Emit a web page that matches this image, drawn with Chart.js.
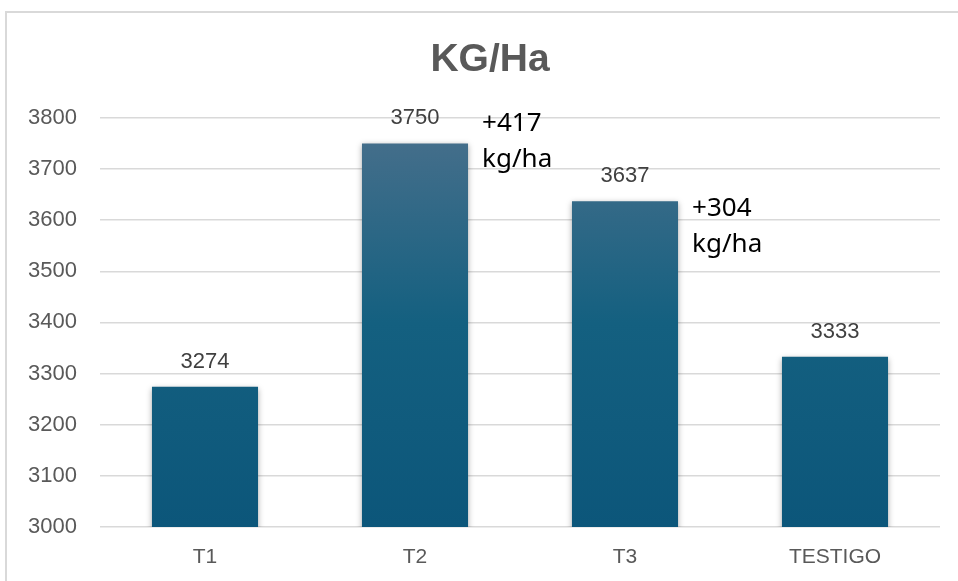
<!DOCTYPE html>
<html>
<head>
<meta charset="utf-8">
<script src="https://cdn.jsdelivr.net/npm/chart.js@4.4.1/dist/chart.umd.min.js"></script>
<style>
  html, body { margin: 0; padding: 0; background: #fff; overflow: hidden; }
  #frame {
    position: absolute; left: 5px; top: 11px;
    width: 970px; height: 600px;
    border: 2px solid #d9d9d9; box-sizing: border-box;
  }
  #frame canvas { display: block; }
</style>
</head>
<body>
<div id="frame"><canvas id="kgChart" width="966" height="596"></canvas></div>
<script>
// chart data
const categories = ['T1', 'T2', 'T3', 'TESTIGO'];
const yields = [3274, 3750, 3637, 3333];
const notes = ['', '+417\nkg/ha', '+304\nkg/ha', ''];
const yTicks = [3000, 3100, 3200, 3300, 3400, 3500, 3600, 3700, 3800];

// where each note sits relative to its bar top (px)
const noteOffsetY = [0, -20, 7, 0];

const ctx = document.getElementById('kgChart').getContext('2d');

function barGradient(context) {
  const chart = context.chart;
  const area = chart.chartArea;
  if (!area) return '#15607f';
  const el = context.element;
  const top = el && el.y != null ? el.y : area.top;
  const bottom = el && el.base != null ? el.base : area.bottom;
  const g = chart.ctx.createLinearGradient(0, top, 0, bottom);
  g.addColorStop(0, '#4a708c');
  g.addColorStop(0.5, '#146080');
  g.addColorStop(1, '#0c567a');
  return g;
}

const labelsPlugin = {
  id: 'barLabels',
  afterDatasetsDraw(chart) {
    const c = chart.ctx;
    const meta = chart.getDatasetMeta(0);
    c.save();
    meta.data.forEach((bar, i) => {
      c.fillStyle = '#404040';
      c.font = '22px "Liberation Sans", Arial, sans-serif';
      c.textAlign = 'center';
      c.textBaseline = 'middle';
      c.fillText(yields[i], bar.x, bar.y - 25);
      if (notes[i]) {
        c.fillStyle = '#000';
        c.font = '26px "Noto Sans", "Open Sans", sans-serif';
        c.textAlign = 'left';
        const lines = notes[i].split('\n');
        lines.forEach((ln, k) => {
          c.fillText(ln, bar.x + bar.width / 2 + 14, bar.y + noteOffsetY[i] + k * 36);
        });
      }
    });
    c.restore();
  }
};

const shadowPlugin = {
  id: 'barShadow',
  beforeDatasetsDraw(chart) {
    chart.ctx.save();
    chart.ctx.shadowColor = 'rgba(0,0,0,0.35)';
    chart.ctx.shadowBlur = 6;
    chart.ctx.shadowOffsetX = 0;
    chart.ctx.shadowOffsetY = 2;
  },
  afterDatasetsDraw(chart) {
    chart.ctx.restore();
  }
};

const chart = new Chart(ctx, {
  type: 'bar',
  data: {
    labels: categories,
    datasets: [{
      label: 'KG/Ha',
      data: yields,
      backgroundColor: barGradient,
      borderWidth: 0,
      barPercentage: 0.505,
      categoryPercentage: 1.0
    }]
  },
  options: {
    responsive: false,
    animation: false,
    layout: { padding: { left: 0, right: 0, top: 0, bottom: 37 } },
    plugins: {
      legend: { display: false },
      tooltip: { enabled: false },
      title: {
        display: true,
        text: 'KG/Ha',
        color: '#595959',
        font: { family: '"Liberation Sans", Arial, sans-serif', size: 39, weight: 'bold' },
        padding: { top: 24, bottom: 34 }
      }
    },
    scales: {
      x: {
        grid: { display: false, drawTicks: false },
        border: { display: false },
        afterFit(scale) { scale.height = 45; },
        ticks: {
          color: '#595959',
          font: { family: '"Liberation Sans", Arial, sans-serif', size: 21 },
          padding: 18,
          maxRotation: 0
        }
      },
      y: {
        min: 3000,
        max: 3800,
        afterBuildTicks(axis) { axis.ticks = yTicks.map(v => ({ value: v })); },
        afterFit(scale) { scale.width = 93; },
        grid: { color: '#d9d9d9', lineWidth: 1.5, drawTicks: false },
        border: { display: false },
        ticks: {
          color: '#595959',
          font: { family: '"Liberation Sans", Arial, sans-serif', size: 22 },
          padding: 23,
          callback: v => String(v)
        }
      },
      // empty spacer on the right so the title stays centred on the frame
      y2: {
        position: 'right',
        grid: { display: false, drawTicks: false },
        border: { display: false },
        ticks: { display: false },
        afterFit(scale) { scale.width = 33; }
      }
    }
  },
  plugins: [shadowPlugin, labelsPlugin]
});
</script>
</body>
</html>
